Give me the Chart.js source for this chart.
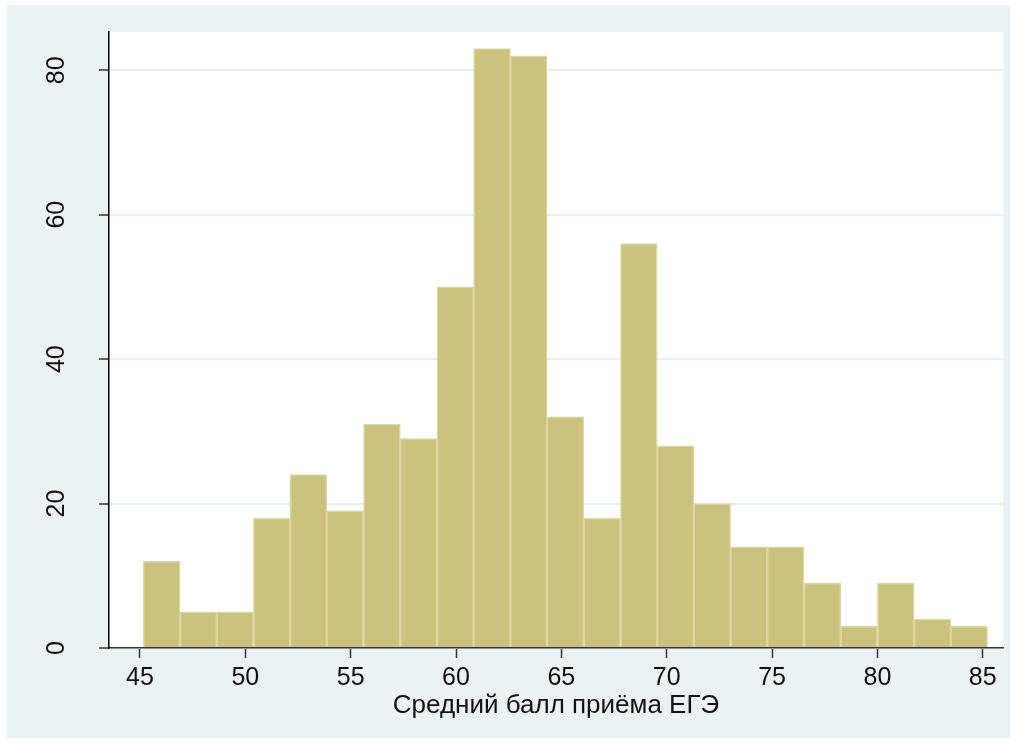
<!DOCTYPE html>
<html>
<head>
<meta charset="utf-8">
<script src="https://cdn.jsdelivr.net/npm/chart.js@4.4.1/dist/chart.umd.min.js"></script>
<style>
  html, body { margin: 0; padding: 0; background: #fff; }
  #wrap { width: 1017px; height: 745px; position: relative; }
</style>
</head>
<body>
<div id="wrap"><canvas id="chart" width="1017" height="745"></canvas></div>
<script>
// histogram bins (left edge of first bin + bin width), counts
const binStart = 45.16;
const binWidth = 1.742;
const counts = [12, 5, 5, 18, 24, 19, 31, 29, 50, 83, 82, 32, 18, 56, 28, 20, 14, 14, 9, 3, 9, 4, 3];
const xTicks = [45, 50, 55, 60, 65, 70, 75, 80, 85];
const yTicks = [0, 20, 40, 60, 80];
const xTitle = 'Средний балл приёма ЕГЭ';

const points = counts.map(function (c, i) {
    return { x: binStart + binWidth * (i + 0.5), y: c };
});

// stata-like background: light frame, white plot region
const bgPlugin = {
    id: 'bg',
    beforeDraw: function (chart) {
        const c = chart.ctx;
        const a = chart.chartArea;
        c.save();
        c.fillStyle = '#ffffff';
        c.fillRect(0, 0, chart.width, chart.height);
        c.fillStyle = '#eaf2f3';
        c.fillRect(7, 5, 1003, 733);
        c.fillStyle = '#ffffff';
        c.fillRect(a.left, a.top, a.right - a.left, a.bottom - a.top);
        c.restore();
    }
};

const ctx = document.getElementById('chart').getContext('2d');
const myChart = new Chart(ctx, {
    type: 'bar',
    data: {
        datasets: [{
            data: points,
            backgroundColor: '#cac27e',
            borderColor: '#dcd7a2',
            borderWidth: 1.5,
            borderSkipped: 'start',
            barPercentage: 1,
            categoryPercentage: 1
        }]
    },
    options: {
        responsive: false,
        animation: false,
        devicePixelRatio: 1,
        layout: { padding: { top: 32, right: 14, left: 0, bottom: 24 } },
        plugins: { legend: { display: false }, tooltip: { enabled: false } },
        scales: {
            x: {
                type: 'linear',
                offset: false,
                min: 43.53,
                max: 85.96,
                afterBuildTicks: function (s) { s.ticks = xTicks.map(function (v) { return { value: v }; }); },
                afterFit: function (s) { s.height = 73; s.paddingLeft = 0; s.paddingRight = 0; },
                grid: { display: true, offset: false, drawOnChartArea: false, tickLength: 10, tickColor: '#333', tickWidth: 1.5 },
                border: { display: true, color: '#333', width: 1.5 },
                ticks: { color: '#111', font: { family: 'Liberation Sans', size: 25 }, padding: 5, maxRotation: 0 },
                title: { display: true, text: xTitle, color: '#111', font: { family: 'Liberation Sans', size: 26 }, padding: { top: 0, bottom: 0 } }
            },
            y: {
                min: 0,
                max: 85.3,
                afterBuildTicks: function (s) { s.ticks = yTicks.map(function (v) { return { value: v }; }); },
                afterFit: function (s) { s.width = 109; s.paddingTop = 0; s.paddingBottom = 0; },
                grid: { color: '#e6eef0', lineWidth: 2, tickLength: 10, tickColor: '#333', tickWidth: 1.5 },
                border: { display: true, color: '#000', width: 1.5 },
                ticks: { color: '#111', font: { family: 'Liberation Sans', size: 25 }, minRotation: 90, maxRotation: 90, crossAlign: 'center', padding: 28 }
            }
        }
    },
    plugins: [bgPlugin]
});
</script>
</body>
</html>
